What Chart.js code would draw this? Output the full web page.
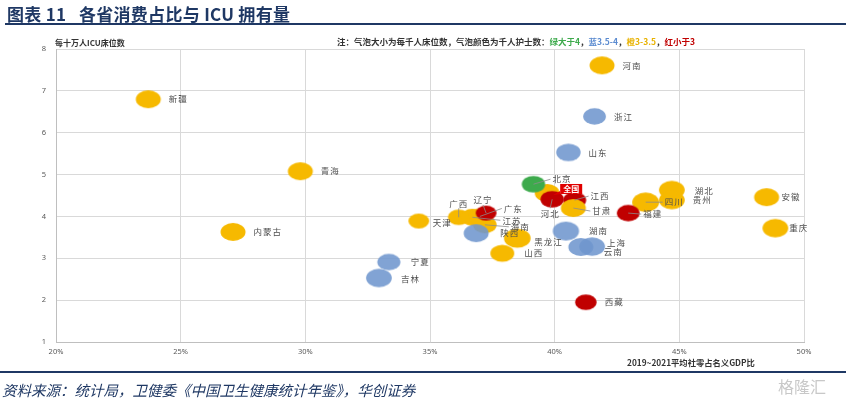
<!DOCTYPE html>
<html>
<head>
<meta charset="utf-8">
<script src="https://cdn.jsdelivr.net/npm/chart.js@4.4.1/dist/chart.umd.min.js"></script>
<style>
  body { margin: 0; background: #fff; }
  #page { position: relative; width: 846px; height: 400px; overflow: hidden; font-family: "Noto Sans CJK SC", sans-serif; }
  #chart { position: absolute; left: 0; top: 0; }
  #title { position: absolute; left: 7px; top: 1px; font-size: 17px; font-weight: bold; color: #1F3864; white-space: pre; letter-spacing: 0.3px; }
  #rule1 { position: absolute; left: 5px; right: 0; top: 23px; height: 2px; background: #1F3864; }
  #rule2 { position: absolute; left: 0; right: 0; top: 371px; height: 2px; background: #1F3864; }
  #source { position: absolute; left: 2px; top: 379px; font-size: 14.5px; font-style: italic; color: #1F3864; white-space: pre; }
  #ytitle { position: absolute; left: 55px; top: 37px; font-size: 8px; font-weight: bold; color: #333; white-space: pre; }
  #note { position: absolute; left: 337px; top: 35px; font-size: 8.5px; font-weight: bold; color: #333; white-space: pre; }
  #xtitle { position: absolute; left: 627px; top: 356px; font-size: 8.3px; font-weight: bold; color: #333; white-space: pre; }
  #mark { position: absolute; left: 778px; top: 374px; font-size: 16px; color: #c8c8c8; white-space: pre; }
</style>
</head>
<body>
<div id="page">
  <canvas id="chart" width="846" height="400"></canvas>
  <div id="title">图表 11   各省消费占比与 ICU 拥有量</div>
  <div id="rule1"></div>
  <div id="ytitle">每十万人ICU床位数</div>
  <div id="note">注：气泡大小为每千人床位数，气泡颜色为千人护士数：<span style="color:#3DAA4C">绿大于4</span>，<span style="color:#5B8BD0">蓝3.5-4</span>，<span style="color:#E8B200">橙3-3.5</span>，<span style="color:#C00000">红小于3</span></div>
  <div id="xtitle">2019~2021平均社零占名义GDP比</div>
  <div id="rule2"></div>
  <div id="source">资料来源：统计局，卫健委《中国卫生健康统计年鉴》，华创证券</div>
  <div id="mark">格隆汇</div>
</div>
<script>
// 省份（绘制顺序即叠放顺序）
const provinces = ["新疆", "河南", "浙江", "山东", "青海", "内蒙古", "天津", "宁夏", "吉林", "西藏",
    "安徽", "重庆", "湖北", "贵州", "四川", "福建", "全国", "北京", "河北", "江西",
    "甘肃", "湖南", "云南", "上海", "山西", "黑龙江", "广西", "江苏", "广东", "海南",
    "陕西", "辽宁"];

// 2019~2021平均社零占名义GDP比 (%)
const consumeShare = [23.7, 41.9, 41.6, 40.55, 29.8, 27.1, 34.55, 33.35, 32.95, 41.25,
    48.5, 48.85, 44.7, 44.7, 43.65, 42.95, 39.7, 39.15, 39.9, 40.8,
    40.75, 40.45, 41.05, 41.5, 37.9, 38.5, 36.15, 36.7, 37.0, 37.2,
    36.85, 37.25];

// 每十万人ICU床位数
const icuBeds = [6.8, 7.61, 6.39, 5.53, 5.08, 3.63, 3.89, 2.91, 2.53, 1.95,
    4.46, 3.72, 4.63, 4.39, 4.34, 4.08, 4.56, 4.77, 4.41, 4.39,
    4.2, 3.65, 3.27, 3.28, 3.12, 3.48, 3.98, 3.98, 4.0, 3.8,
    3.6, 4.08];

// 每千人床位数（气泡大小）
const bedsPerK = [6.8, 6.8, 5.6, 6.5, 6.8, 6.8, 4.7, 5.8, 7.2, 5.1,
    6.8, 7.2, 7.2, 7.2, 7.9, 5.6, 6.7, 5.9, 5.9, 5.8,
    6.8, 7.5, 6.8, 7.2, 6.2, 7.7, 5.1, 6.0, 5.0, 6.0,
    6.8, 4.7];

// 千人护士数分档（气泡颜色）：g 大于4，b 3.5-4，y 3-3.5，r 小于3
const nurseLevel = ["y", "y", "b", "b", "y", "y", "y", "b", "b", "r",
    "y", "y", "y", "y", "y", "r", "y", "g", "r", "r",
    "y", "b", "b", "b", "y", "y", "y", "y", "y", "y",
    "b", "r"];

const levelColor = {
    g: "#3DAA4C",
    b: "rgba(112,150,206,0.88)",
    y: "#F6B900",
    r: "#C00000"
};

// 标签位置微调（相对气泡中心，像素）
const labelSpot = {
    "北京": { dx: 19, dy: -5, lead: true },
    "河北": { dx: -2, dy: 14, align: "center", lead: true },
    "江西": { dx: 16, dy: -4, lead: true },
    "甘肃": { dx: 19, dy: 3, lead: true },
    "湖南": { dx: 23, dy: 0 },
    "上海": { dx: 15, dy: -4 },
    "云南": { dx: 23, dy: 5 },
    "黑龙江": { dx: 17, dy: 4 },
    "山西": { dx: 22, dy: 0 },
    "福建": { dx: 15, dy: 1, lead: true },
    "四川": { dx: 19, dy: 0, lead: true },
    "湖北": { dx: 23, dy: 1 },
    "贵州": { dx: 21, dy: 0 },
    "安徽": { dx: 15, dy: 0 },
    "重庆": { dx: 14, dy: 0 },
    "天津": { dx: 14, dy: 2 },
    "宁夏": { dx: 22, dy: 0 },
    "吉林": { dx: 22, dy: 1 },
    "广西": { dx: 0, dy: -14, align: "center", lead: true },
    "辽宁": { dx: -3, dy: -13, align: "center", lead: true },
    "广东": { dx: 24, dy: -8, lead: true },
    "江苏": { dx: 30, dy: 3, lead: true },
    "海南": { dx: 26, dy: 2, lead: true },
    "陕西": { dx: 24, dy: 0 }
};

const styleCache = {};
function bubbleStyle(color, r) {
    let key = color + "_" + r.toFixed(2);
    if (styleCache[key]) return styleCache[key];
    let rx = r * 1.17, ry = r * 0.84;
    let c = document.createElement("canvas");
    c.width = Math.ceil(rx * 2) + 2;
    c.height = Math.ceil(ry * 2) + 2;
    let g = c.getContext("2d");
    g.fillStyle = color;
    g.beginPath();
    g.ellipse(c.width / 2, c.height / 2, rx, ry, 0, 0, Math.PI * 2);
    g.fill();
    styleCache[key] = c;
    return c;
}

const namePlugin = {
    id: "names",
    afterDatasetsDraw(chart) {
        let ctx = chart.ctx;
        let meta = chart.getDatasetMeta(0);
        ctx.save();
        ctx.textBaseline = "middle";
        meta.data.forEach((pt, i) => {
            let name = provinces[i];
            let r = pt.options.radius;
            if (name === "全国") {
                let bx = pt.x + 24, by = pt.y - 4;
                ctx.fillStyle = "#E00000";
                ctx.beginPath();
                ctx.moveTo(bx - 11, by + 2);
                ctx.lineTo(pt.x + 6, pt.y + 2);
                ctx.lineTo(bx - 11, by + 5);
                ctx.fill();
                ctx.fillRect(bx - 11, by - 5, 22, 10);
                ctx.fillStyle = "#fff";
                ctx.font = "bold 8px 'Noto Sans CJK SC'";
                ctx.textAlign = "center";
                ctx.fillText(name, bx, by);
                return;
            }
            let o = labelSpot[name] || {};
            let dx = o.dx !== undefined ? o.dx : r * 1.17 + 8;
            let dy = o.dy || 0;
            let align = o.align || "left";
            let tx = pt.x + dx, ty = pt.y + dy;
            if (o.lead) {
                ctx.strokeStyle = "#8c8c8c";
                ctx.lineWidth = 0.8;
                ctx.beginPath();
                ctx.moveTo(pt.x, pt.y);
                if (align === "center") {
                    ctx.lineTo(tx, ty + (dy < 0 ? 5 : -5));
                } else {
                    ctx.lineTo(tx - 2, ty);
                }
                ctx.stroke();
            }
            ctx.fillStyle = "#4d4d4d";
            ctx.font = "8.5px 'Noto Sans CJK SC'";
            ctx.letterSpacing = "1px";
            ctx.textAlign = align;
            ctx.fillText(name, tx, ty);
            ctx.letterSpacing = "0px";
        });
        ctx.restore();
    }
};

const points = provinces.map((p, i) => ({
    x: consumeShare[i],
    y: icuBeds[i],
    r: 4.1 * Math.sqrt(bedsPerK[i])
}));

new Chart(document.getElementById("chart"), {
    type: "bubble",
    data: {
        datasets: [{
            label: "各省",
            data: points,
            pointStyle: c => {
                if (!c.raw) return "circle";
                return bubbleStyle(levelColor[nurseLevel[c.dataIndex]], c.raw.r);
            },
            backgroundColor: provinces.map((p, i) => levelColor[nurseLevel[i]]),
            borderWidth: 0
        }]
    },
    options: {
        responsive: false,
        animation: false,
        layout: { padding: { left: 20, right: 42, top: 49, bottom: 38 } },
        plugins: {
            legend: { display: false },
            tooltip: { enabled: false }
        },
        scales: {
            x: {
                min: 20,
                max: 50,
                ticks: {
                    stepSize: 5,
                    padding: 5,
                    color: "#595959",
                    font: { size: 7.5, family: "'Noto Sans', sans-serif" },
                    callback: v => v + "%"
                },
                grid: { color: "#D9D9D9", drawTicks: false },
                border: { color: "#BFBFBF" },
                afterFit: s => { s.height = 20; }
            },
            y: {
                min: 1,
                max: 8,
                ticks: {
                    stepSize: 1,
                    padding: 10,
                    color: "#595959",
                    font: { size: 7.5, family: "'Noto Sans', sans-serif" }
                },
                grid: { color: "#D9D9D9", drawTicks: false },
                border: { color: "#BFBFBF" },
                afterFit: s => { s.width = 36; }
            }
        }
    },
    plugins: [namePlugin]
});
</script>
</body>
</html>
